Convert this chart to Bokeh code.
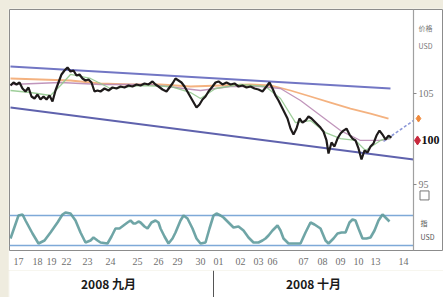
from bokeh.plotting import figure
from bokeh.models import Range1d, LinearAxis, FixedTicker
from bokeh.layouts import column
from bokeh.core.properties import value
from bokeh.embed import file_html
from bokeh.resources import INLINE

# ---------------- data (USD/JPY, hourly bars) ----------------
bar = [10, 13, 16, 19, 22, 25, 28, 31, 34, 37, 40, 43, 46, 49, 52, 55, 58, 61, 64, 67,
       70, 73, 76, 79, 82, 85, 88, 91, 94, 97, 100, 104, 108, 112, 116, 120, 124, 128, 132, 136,
       140, 144, 148, 152, 155, 158, 162, 166, 169, 172, 175, 178, 181, 184, 188, 192, 196, 199, 202, 205,
       208, 212, 215, 218, 222, 226, 230, 234, 238, 242, 246, 250, 254, 258, 262, 266, 269, 272, 275, 278,
       281, 284, 287, 290, 293, 296, 299, 302, 305, 308, 311, 314, 317, 320, 323, 326, 328, 331, 334, 337,
       340, 343, 346, 349, 352, 355, 358, 361, 364, 367, 370, 373, 376, 379, 382, 385, 388, 391]
price = [105.88, 106.21, 105.99, 106.21, 105.55, 105.22, 105.66, 104.67, 104.45, 104.89,
         104.34, 104.67, 104.34, 104.78, 104.12, 105.33, 106.21, 107.09, 107.53, 107.86,
         107.42, 107.53, 106.98, 107.09, 106.65, 106.43, 106.54, 106.21, 105.22, 105.33,
         105.22, 105.55, 105.33, 105.66, 105.55, 105.77, 105.66, 105.88, 105.77, 105.99,
         105.88, 106.10, 105.99, 106.32, 105.99, 105.77, 105.44, 105.22, 105.66, 106.10,
         106.65, 106.43, 106.21, 105.77, 105.00, 104.23, 103.46, 103.79, 104.34, 104.67,
         105.22, 105.77, 106.21, 106.32, 105.99, 106.21, 105.99, 106.10, 105.77, 105.88,
         105.66, 105.77, 105.55, 105.44, 105.22, 105.77, 106.21, 105.55, 104.78, 104.23,
         103.57, 102.91, 102.25, 101.15, 100.49, 101.15, 102.25, 101.81, 102.03, 102.47,
         102.25, 101.92, 101.59, 101.26, 100.82, 99.84, 98.41, 99.62, 99.18, 100.05,
         100.60, 100.93, 101.15, 100.49, 100.05, 99.84, 98.96, 97.75, 98.74, 98.52,
         99.18, 99.51, 100.38, 100.93, 100.49, 99.95, 100.38, 100.16]

ma_long_bar = [10, 40, 70, 100, 130, 160, 190, 220, 250, 270, 290, 310, 330, 350, 370, 388]
ma_long = [106.65, 106.54, 106.43, 106.10, 105.99, 105.99, 105.77, 105.88, 105.99, 105.88,
           105.33, 104.67, 104.01, 103.35, 102.80, 102.25]

ma_mid_bar = [10, 60, 100, 150, 200, 230, 260, 280, 300, 320, 340, 360, 380, 390]
ma_mid = [105.99, 106.21, 105.99, 105.99, 105.33, 105.77, 105.77, 105.55, 104.23, 102.58,
          100.93, 99.84, 99.84, 100.05]

ma_short_bar = [10, 30, 50, 60, 70, 90, 110, 140, 170, 190, 200, 215, 240, 265, 280, 295,
                310, 325, 340, 355, 365, 380, 390]
ma_short = [105.33, 105.11, 104.78, 105.88, 107.09, 106.65, 105.55, 105.88, 105.77, 105.11,
            104.45, 105.55, 105.99, 105.77, 104.45, 101.81, 102.03, 100.71, 100.05, 99.84,
            98.74, 99.84, 100.16]

upper_bar = [10, 390]
upper_chan = [107.97, 105.55]
lower_bar = [10, 413]
lower_chan = [103.46, 97.75]
proj_bar = [383, 413]
proj_price = [99.73, 102.03]

osc_bar = [10, 18, 22, 25, 32, 38, 44, 50, 57, 62, 65, 70, 75, 80, 85, 90, 93, 97, 100, 107,
           111, 115, 119, 123, 127, 130, 133, 135, 138, 140, 144, 147, 151, 155, 158, 160, 164, 168, 172, 175,
           180, 183, 187, 192, 196, 200, 205, 209, 213, 216, 220, 223, 228, 233, 238, 243, 248, 253, 258, 262,
           265, 268, 272, 277, 280, 283, 288, 294, 300, 305, 310, 314, 320, 325, 328, 333, 337, 341, 345, 349,
           352, 355, 358, 362, 366, 370, 374, 378, 382, 386, 389]
osc = [34, 80, 82, 70, 44, 24, 30, 46, 66, 82, 86, 84, 70, 46, 26, 30, 36, 30, 26, 24,
       38, 54, 54, 60, 66, 70, 64, 64, 68, 66, 58, 54, 66, 70, 66, 54, 38, 24, 34, 46,
       70, 80, 74, 54, 34, 24, 26, 54, 80, 84, 80, 76, 66, 56, 58, 50, 36, 26, 26, 30,
       34, 40, 50, 60, 50, 34, 24, 24, 24, 46, 66, 62, 54, 30, 24, 34, 44, 46, 46, 66,
       72, 70, 54, 34, 34, 36, 50, 70, 82, 74, 68]
osc_levels = [20, 80]

day_pos = [18, 37, 51, 66, 87, 110, 137, 158, 177, 200, 218, 240, 258, 272, 303, 322, 340, 358, 375, 403]
day_labels = ["17", "18", "19", "22", "23", "24", "25", "26", "29", "30",
              "01", "02", "03", "06", "07", "08", "09", "10", "13", "14"]
month_pos = [108, 313]
month_labels = ["2008 九月", "2008 十月"]
month_split = [213]
price_ticks = [95, 105]
price_tick_labels = ["95", "105"]
last_price = 99.84
last_label = "100"
target_price = 102.25
unit_price = [112.25, 110.27]
unit_labels = ["价格", "USD"]

AXIS_X = 413  # bar position of the price scale

# ---------------- main figure ----------------
p = figure(width=435, height=262, output_backend="svg", toolbar_location=None,
           x_range=Range1d(9, 443), y_range=Range1d(87.75, 114.23),
           x_axis_location=None, y_axis_location=None,
           min_border_left=1, min_border_right=0, min_border_top=1, min_border_bottom=20)
p.extra_y_ranges = {"osc": Range1d(10, 492)}
p.grid.visible = False
p.background_fill_color = "white"
p.border_fill_color = "white"
p.outline_line_color = "#8c8c8c"
p.outline_line_width = 1

# channel lines
p.line(upper_bar, upper_chan, line_color="#7276c4", line_width=2.2)
p.line(lower_bar, lower_chan, line_color="#5f62ad", line_width=2.2)
p.line(proj_bar, proj_price, line_color="#8c98d8", line_width=1.6, line_dash="3 2")

# moving averages
p.line(ma_long_bar, ma_long, line_color="#f2a56a", line_width=1.8, line_alpha=0.85)
p.line(ma_mid_bar, ma_mid, line_color="#b98ab4", line_width=1.3, line_alpha=0.9)
p.line(ma_short_bar, ma_short, line_color="#93c98f", line_width=1.3, line_alpha=0.9)

# price
p.line(bar, price, line_color="#1e1a1a", line_width=2.2)

# oscillator
p.segment(x0=[p.x_range.start] * 2, x1=[AXIS_X] * 2, y0=osc_levels, y1=osc_levels,
          line_color="#7ea9d8", line_width=1.6, y_range_name="osc")
p.line(osc_bar, osc, line_color="#5f9b9c", line_width=2.6, line_alpha=0.9, y_range_name="osc")

# price scale on the right
p.segment(x0=[AXIS_X], x1=[AXIS_X], y0=[p.y_range.start], y1=[p.y_range.end],
          line_color="#a0a0a0", line_width=1.2)
p.segment(x0=[AXIS_X] * len(price_ticks), x1=[AXIS_X + 3] * len(price_ticks),
          y0=price_ticks, y1=price_ticks, line_color="#888888", line_width=1)
p.text(x=[AXIS_X + 5] * len(price_ticks), y=price_ticks, text=price_tick_labels,
       text_font=value("Liberation Sans Narrow"), text_font_size="10px",
       text_color="#777777", text_baseline="middle", text_align="left")
p.text(x=[AXIS_X + 5] * len(unit_price), y=unit_price, text=unit_labels,
       text_font=value("Noto Sans CJK SC"), text_font_size="7px",
       text_color="#777777", text_baseline="middle", text_align="left")
p.scatter(x=[AXIS_X + 4], y=[last_price], marker="diamond", size=9, color="#c8283c")
p.text(x=[AXIS_X + 8], y=[last_price], text=[last_label],
       text_font=value("Liberation Sans Narrow"), text_font_size="12px", text_font_style="bold",
       text_color="#111111", text_baseline="middle", text_align="left")
p.scatter(x=[AXIS_X + 5], y=[target_price], marker="diamond", size=7, color="#f08a3c")
p.scatter(x=[AXIS_X + 11], y=[93.8], marker="square", size=9, fill_color=None,
          line_color="#777777", line_width=1)
p.text(x=[AXIS_X + 7, AXIS_X + 7], y=[66, 38], text=["指", "USD"], y_range_name="osc",
       text_font=value("Noto Sans CJK SC"), text_font_size="7px",
       text_color="#555555", text_baseline="middle", text_align="left")

# bottom day axis
dx = LinearAxis(ticker=FixedTicker(ticks=day_pos),
                major_label_overrides={int(k): v for k, v in zip(day_pos, day_labels)},
                axis_line_color=None, major_tick_line_color=None, minor_tick_line_color=None,
                major_tick_out=0, major_tick_in=0, major_label_standoff=7,
                major_label_text_font_size="10px", major_label_text_color="#6f6f6f",
                major_label_text_font="Liberation Sans Narrow")
p.add_layout(dx, "below")

# ---------------- month strip ----------------
m = figure(width=435, height=27, output_backend="svg", toolbar_location=None,
           x_range=p.x_range, y_range=Range1d(0, 1),
           x_axis_location=None, y_axis_location=None,
           min_border_left=1, min_border_right=0, min_border_top=0, min_border_bottom=0)
m.grid.visible = False
m.outline_line_color = None
m.background_fill_color = "white"
m.border_fill_color = "white"
m.segment(x0=month_split, x1=month_split, y0=[0] * len(month_split), y1=[1] * len(month_split),
          line_color="#555555", line_width=1)
m.text(x=month_pos, y=[0.52] * len(month_pos), text=month_labels,
       text_font=value("Noto Sans CJK SC"), text_font_size="12px", text_font_style="bold",
       text_color="#1a1a1a", text_align="center", text_baseline="middle")

layout = column(p, m, spacing=0)
html = file_html(layout, INLINE)
html = html.replace("</head>",
                    "<style>html,body{background-color:#efecdf;}"
                    "body{margin:0 !important;padding:8px 0 0 8px !important;}</style></head>", 1)
open("out.html", "w").write(html)
